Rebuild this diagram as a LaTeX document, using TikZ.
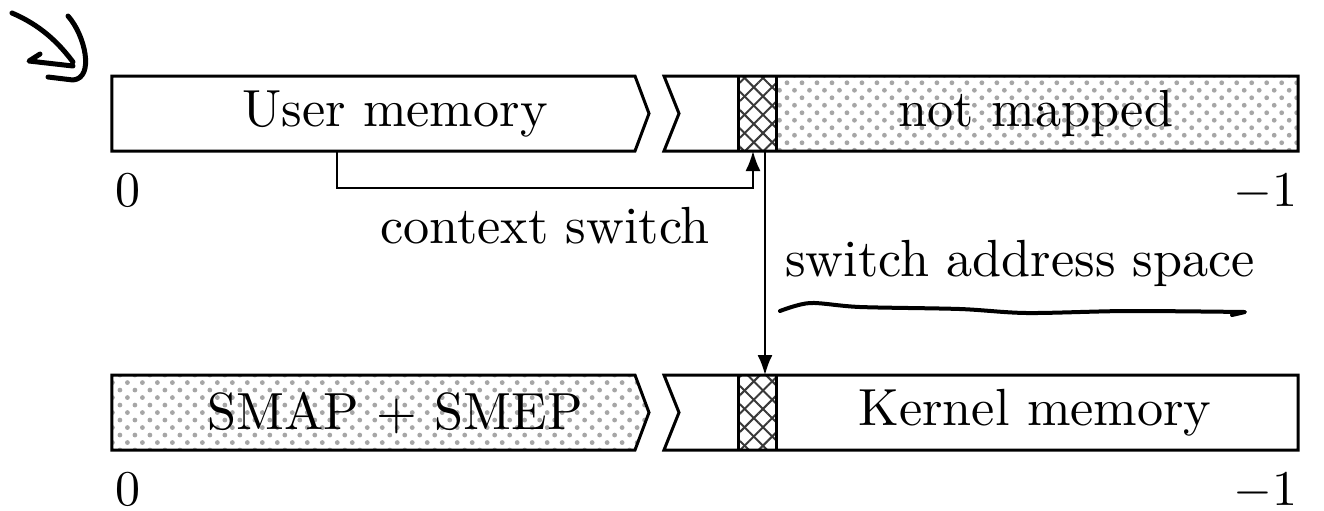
\documentclass[tikz,border=0pt]{standalone}
\usetikzlibrary{arrows.meta,patterns,patterns.meta}

\tikzstyle{seg} = [line width=0.6pt, line join=miter]
\tikzstyle{dotted fill} = [pattern={Dots[angle=45,distance=2.12pt,radius=0.48pt]}, pattern color=gray!70]
\tikzstyle{hatch a} = [pattern={Lines[angle=45,distance=2.6pt,line width=0.4pt]}, pattern color=gray!45!black]
\tikzstyle{hatch b} = [pattern={Lines[angle=-45,distance=2.6pt,line width=0.4pt]}, pattern color=gray!45!black]
\tikzstyle{bound} = [inner sep=0pt]
\tikzstyle{scribble} = [line width=1pt, line cap=round, line join=round]

\begin{document}
\begin{tikzpicture}[x=0.2pt, y=-0.2pt, font=\fontsize{10.45}{12.5}\selectfont]
\useasboundingbox (0,0) rectangle (1324,510);

% upper address space
\fill[dotted fill] (776,76) rectangle (1298,151);
\fill[hatch a] (738,76) rectangle (776,151);
\fill[hatch b] (738,76) rectangle (776,151);
\draw[seg] (112,76) -- (635,76) -- (649,113.5) -- (635,151) -- (112,151) -- cycle;
\draw[seg] (664,76) -- (1298,76) -- (1298,151) -- (664,151) -- (679,113.5) -- cycle;
\draw[seg] (738,76) -- (738,151) (776,76) -- (776,151);
\node (umem) at (395,113.5) {User memory};
\node (nomap) at (1036,113.5) {not mapped};
\node[bound, anchor=north west] (zeroa) at (115,173) {$0$};
\node[bound, anchor=north east] (monea) at (1298,173) {$-1$};

% lower address space
\fill[dotted fill] (112,375) -- (635,375) -- (649,412.5) -- (635,450) -- (112,450) -- cycle;
\fill[hatch a] (738,375) rectangle (776,450);
\fill[hatch b] (738,375) rectangle (776,450);
\draw[seg] (112,375) -- (635,375) -- (649,412.5) -- (635,450) -- (112,450) -- cycle;
\draw[seg] (664,375) -- (1298,375) -- (1298,450) -- (664,450) -- (679,412.5) -- cycle;
\draw[seg] (738,375) -- (738,450) (776,375) -- (776,450);
\node (smap) at (395,412.5) {SMAP + SMEP};
\node (kmem) at (1035,412.5) {Kernel memory};
\node[bound, anchor=north west] (zerob) at (115,472) {$0$};
\node[bound, anchor=north east] (moneb) at (1298,472) {$-1$};

% transitions
\coordinate (ctxfrom) at (337,151);
\coordinate (ctxto) at (753,151);
\coordinate (swfrom) at (765,151);
\coordinate (swto) at (765,375);
\draw[-{Latex[length=4pt,width=3pt]}] (ctxfrom) -- ++(0,37) coordinate (ctxbend) -| (ctxto);
\node (ctx) at (545,226) {context switch};
\draw[-{Latex[length=4pt,width=3pt]}] (swfrom) -- node[right=0.5pt] (sw) {switch address space} (swto);

% pen marks
\draw[scribble] (12,13) .. controls (40,25) and (58,42) .. (73,62);
\draw[scribble] (40,54) -- (29,61) -- (73,66);
\draw[scribble] (68,16) .. controls (85,35) and (95,78) .. (73,80) -- (48,77);
\draw[scribble, line width=0.8pt] plot[smooth] coordinates {(780,311) (810,303) (860,307) (960,309) (1027,313) (1127,311) (1245,312)} -- (1232,315);
\end{tikzpicture}
\end{document}
